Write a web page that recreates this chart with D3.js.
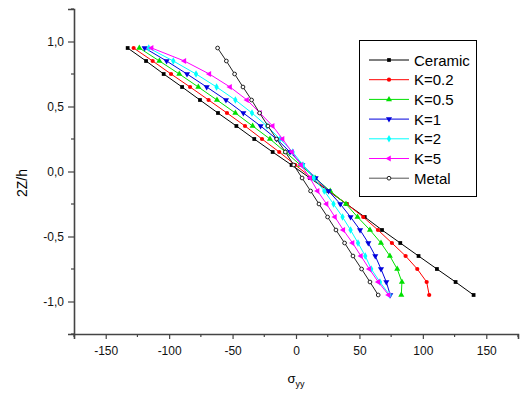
<!DOCTYPE html>
<html><head><meta charset="utf-8">
<script src="https://cdn.jsdelivr.net/npm/d3@7"></script>
<style>body{margin:0;background:#fff}svg{display:block}text{font-family:"Liberation Sans",Arial,sans-serif}</style>
</head><body>
<svg id="c" width="522" height="394"></svg>
<script>
const zVals = [0.95,0.85,0.75,0.65,0.55,0.45,0.35,0.25,0.15,0.05,-0.05,-0.15,-0.25,-0.35,-0.45,-0.55,-0.65,-0.75,-0.85,-0.95];
const ceramic = [-132.7,-118.2,-104.3,-89.8,-75.7,-61.5,-47,-32.9,-18.4,-3.5,11,25.5,39.9,54.2,67.8,82.2,96.6,111.1,125.8,140];
const k02 = [-128,-113,-98.5,-83.5,-68.9,-54.4,-40.2,-26.8,-13.2,-0.5,12.5,26,40,53,64.6,75.6,86.4,95.6,103,105];
const k05 = [-123.5,-107.7,-92,-77,-62.3,-47.8,-34.2,-20.5,-8.4,3.5,15,27,39.4,48.5,58.3,67,74,79.8,83.5,83];
const k1 = [-119.3,-102,-85.9,-70.4,-55.2,-41.5,-27.9,-15.3,-4.7,5,15.5,25.7,34.9,43,50.5,57,62.5,67,71.2,74.3];
const k2 = [-116.1,-96.7,-78.8,-62.6,-47.8,-34.7,-22.9,-12.6,-2.6,5.5,14,22.3,29.6,36.7,43,48.9,54.6,59.3,66.2,73.8];
const k5 = [-113.8,-88,-68.3,-52,-38.6,-28.4,-18.4,-10.6,-3.2,4,11,17,24.1,30.7,37.3,44.6,51.2,57.8,64.9,73];
const metal = [-61.8,-54.9,-48.4,-41.8,-35,-28.7,-22.1,-15.3,-8.4,-1.8,4.8,11.5,18.1,24.9,31.5,38.3,44.9,51.7,58.3,64.8];
const seriesNames = ["Ceramic","K=0.2","K=0.5","K=1","K=2","K=5","Metal"];
const xTicks = [-150,-100,-50,0,50,100,150];
const xTickLabels = ["-150","-100","-50","0","50","100","150"];
const yTicks = [-1.0,-0.5,0.0,0.5,1.0];
const yTickLabels = ["-1,0","-0,5","0,0","0,5","1,0"];

const colors = ["#000000","#ff0000","#00e000","#0000dd","#00ffff","#ff00ff","#222222"];
const shapes = ["square","circle","tri","tridown","diamond","trileft","opencircle"];
const vals = [ceramic,k02,k05,k1,k2,k5,metal];

const svg = d3.select("#c");
const x = d3.scaleLinear().domain([-175,175]).range([74,518]);
const y = d3.scaleLinear().domain([-1.25,1.25]).range([334,9]);

const axCol = "#444";
const xAxis = d3.axisBottom(x).tickValues(xTicks).tickSize(5).tickFormat((d,i)=>xTickLabels[i]);
const gx = svg.append("g").attr("transform","translate(0,334)").call(xAxis);
const yAxis = d3.axisLeft(y).tickValues(yTicks).tickSize(6).tickFormat((d,i)=>yTickLabels[i]);
const gy = svg.append("g").attr("transform","translate(74,0)").call(yAxis);
[gx,gy].forEach(g=>{
  g.select(".domain").attr("stroke",axCol).attr("stroke-width",1.6);
  g.selectAll(".tick line").attr("stroke",axCol).attr("stroke-width",1.2);
  g.selectAll("text").attr("font-size",12).attr("fill","#111").style("font-family","'Liberation Sans',Arial,sans-serif");
});
gx.selectAll("text").attr("dy","1.05em");
gy.selectAll("text").attr("dx","-1px");
const xMinor = d3.range(-175,176,25).filter(v=>!xTicks.includes(v));
svg.append("g").selectAll("line").data(xMinor).join("line")
  .attr("x1",d=>x(d)).attr("x2",d=>x(d)).attr("y1",334).attr("y2",337)
  .attr("stroke",axCol).attr("stroke-width",1.2);
const yMinor = [-1.25,-0.75,-0.25,0.25,0.75,1.25];
svg.append("g").selectAll("line").data(yMinor).join("line")
  .attr("y1",d=>y(d)).attr("y2",d=>y(d)).attr("x1",74).attr("x2",71)
  .attr("stroke",axCol).attr("stroke-width",1.2);

function marker(g, shape, color, cx, cy){
  let sym, rot=0, size=16, fill=color, stroke="none";
  if(shape==="square"){sym=d3.symbolSquare;size=14;}
  else if(shape==="circle"){sym=d3.symbolCircle;size=14;}
  else if(shape==="tri"){sym=d3.symbolTriangle;size=16;}
  else if(shape==="tridown"){sym=d3.symbolTriangle;size=16;rot=180;}
  else if(shape==="diamond"){sym=d3.symbolDiamond;size=16;}
  else if(shape==="trileft"){sym=d3.symbolTriangle;size=16;rot=-90;}
  else if(shape==="opencircle"){sym=d3.symbolCircle;size=11;fill="#fff";stroke=color;}
  g.append("path").attr("d",d3.symbol().type(sym).size(size)())
   .attr("transform",`translate(${cx},${cy}) rotate(${rot})`)
   .attr("fill",fill).attr("stroke",stroke).attr("stroke-width",1);
}

const line = d3.line().x(d=>x(d[0])).y(d=>y(d[1]));
vals.forEach((arr,i)=>{
  const pts = arr.map((v,j)=>[v,zVals[j]]);
  const g = svg.append("g");
  g.append("path").attr("d",line(pts)).attr("fill","none").attr("stroke",colors[i]).attr("stroke-width",1);
  pts.forEach(p=>marker(g,shapes[i],colors[i],x(p[0]),y(p[1])));
});

const lg = svg.append("g");
lg.append("rect").attr("x",359.5).attr("y",40.5).attr("width",117).attr("height",156)
  .attr("fill","#fff").attr("stroke","#000").attr("stroke-width",1);
seriesNames.forEach((n,i)=>{
  const yy = 60 + i*19.7;
  lg.append("line").attr("x1",369).attr("x2",409).attr("y1",yy).attr("y2",yy).attr("stroke",i===6?"#555":colors[i]).attr("stroke-width",1);
  marker(lg,shapes[i],colors[i],389,yy);
  lg.append("text").attr("x",414).attr("y",yy+5.5).attr("font-size",15).attr("fill","#000").text(n);
});

const xt = svg.append("text").attr("x",296).attr("y",383).attr("text-anchor","middle").attr("font-size",13).attr("fill","#000");
xt.append("tspan").text("σ");
xt.append("tspan").attr("font-size",9).attr("dy",4).text("yy");
svg.append("text").attr("transform","translate(27,183) rotate(-90)").attr("text-anchor","middle")
  .attr("font-size",14).attr("fill","#000").text("2Z/h");
</script>
</body></html>
